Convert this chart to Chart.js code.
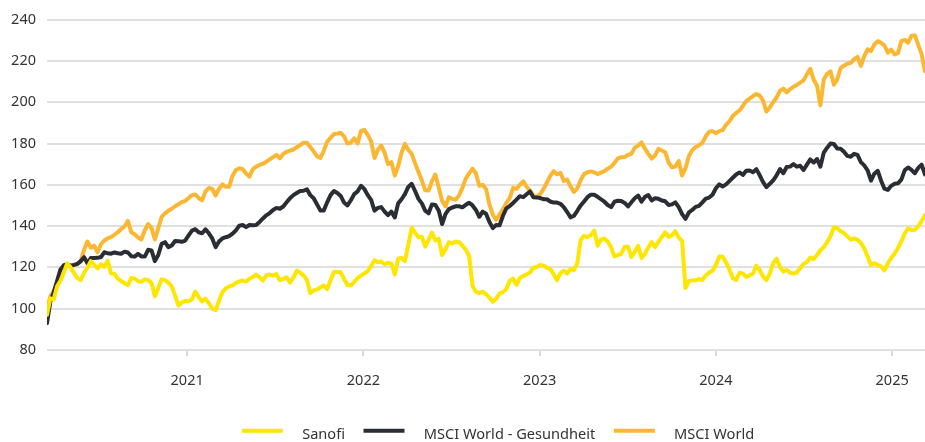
<!DOCTYPE html>
<html>
<head>
<meta charset="utf-8">
<script src="https://cdn.jsdelivr.net/npm/chart.js"></script>
<style>
  html, body { margin: 0; padding: 0; background: #fff; }
</style>
</head>
<body>
<canvas id="myChart" width="925" height="442"></canvas>

<script>
// weekly closes, indexed, first week = 2020-03-16
const firstWeek = '2020-03-16';

const sanofi = [
  97, 105, 104.5, 110.8, 113.5, 117.5, 122, 120, 117.3, 114.8, 113.8, 117.3, 119.8, 123, 121.2, 119.5, 121.5, 120.2, 123.2, 117,
  116.9, 114.5, 113.4, 112.3, 111.4, 114.8, 114.6, 113.3, 113, 114.2, 113.8, 112.5, 106, 110, 114.2, 113.8, 112.6, 110.8, 106.3, 101.5,
  103, 103.8, 103.6, 104.5, 108.3, 105.5, 103.5, 104.8, 102.6, 100.1, 99.2, 103.8, 108, 109.8, 110.8, 111.3, 112.4, 113.2, 113.6, 113.1,
  114.4, 115.4, 116.5, 115.2, 113.6, 116.2, 116.5, 116, 116.7, 113.8, 114.4, 115.2, 112.6, 115, 118.4, 117.5, 116.1, 114, 107.6, 108.7,
  109.3, 110.2, 111.2, 109.5, 113.7, 117.8, 117.7, 117.6, 114.4, 111.5, 111.2, 113, 114.8, 116, 117, 118.2, 120.6, 123.5, 122.5, 122.8,
  121.5, 122.2, 121.8, 116.5, 124.3, 124.5, 123, 131, 139.2, 136.8, 134.6, 134.8, 130, 133.3, 136.9, 133, 133.8, 126, 128.8, 132.2,
  131.6, 132.5, 132.2, 130.5, 128.6, 125.5, 111, 108.2, 107.5, 108.2, 107, 105.3, 103.3, 104.8, 107.3, 108, 109.5, 113.5, 114.5, 111.5,
  114.8, 115.8, 116.6, 117.5, 119.8, 120.2, 121.2, 120.8, 119.8, 119.3, 116.7, 113.8, 117.2, 118.4, 117, 119.2, 118.6, 122, 133.3, 135.3,
  134.7, 135.6, 137.8, 130.5, 133.5, 134, 132.5, 129.6, 125.3, 126, 126.5, 130, 130, 125, 127.5, 130.4, 124.5, 126.5, 129.6, 132.2,
  129.8, 132.3, 134.7, 137, 134.8, 135.5, 137.5, 134.5, 132.8, 110, 113.4, 113.7, 113.7, 114.3, 113.9, 116, 117.5, 118.4, 121.2, 125.2,
  125.1, 122.4, 119, 114.8, 113.8, 117.4, 117, 115.4, 116.1, 116.9, 120.8, 118.6, 115.5, 113.8, 117, 122, 124.2, 120.2, 118, 118.8,
  117.4, 117, 117.5, 119.6, 121.6, 122.6, 124.8, 124, 126, 128.3, 129.8, 132.2, 135.2, 139.4, 139, 137.5, 136.6, 135, 133.4, 134,
  133.4, 131.8, 129.2, 125.2, 121.2, 122, 121.2, 120.4, 118.5, 122, 124.5, 126.6, 129.4, 132.6, 136.4, 138.9, 138.1, 138.2, 139.8, 142.4,
  145.3
];

const msciHealth = [
  93, 103.5, 108, 113.5, 119, 121, 121.5, 120.8, 121.2, 121.7, 123, 124.9, 122, 124.5, 124.5, 124.6, 125, 127.3, 126.8, 126.6,
  127.2, 126.8, 126.6, 127.6, 127.2, 125.4, 125.2, 126.5, 125.3, 125.2, 128.5, 128.2, 123, 126, 131.4, 132.2, 129.8, 130.6, 132.8, 132.6,
  132.4, 133, 135.5, 137.8, 138.5, 137, 136.5, 138.4, 136.5, 134, 129.8, 132.5, 134, 134.6, 135.1, 136.3, 137.9, 140.2, 140.5, 139.5,
  140.5, 140.4, 140.5, 142, 143.7, 145.2, 146.3, 147.8, 148.8, 148.4, 149.5, 151.5, 153.5, 155, 156, 157, 157.1, 157.8, 155, 153.5,
  150.5, 147.5, 147.6, 151.5, 155, 157, 156, 154.6, 151.4, 150, 152.5, 155.5, 156.8, 159.5, 158, 155, 152.7, 147.5, 148.8, 149.2,
  147, 145.3, 147, 144.2, 151, 153, 155.5, 159, 160.5, 157, 153.2, 151, 147.5, 146.2, 150.5, 150.2, 147.5, 141, 145.8, 148.2,
  149, 149.6, 149.6, 149.1, 150.3, 151.3, 150, 147.8, 144.5, 147, 146, 142, 139, 140.5, 140.4, 145, 148.6, 149.7, 151.2, 152.8,
  154.5, 154, 155.4, 156.8, 154, 153.9, 153.6, 153, 153, 151.9, 151.4, 151.4, 150.8, 149.2, 146.8, 144.2, 145, 147.4, 150, 151.9,
  154, 155.2, 155.2, 154.2, 153, 151.8, 150.2, 149.2, 151.8, 152.3, 152.1, 151.2, 149.5, 151.5, 153.5, 154.8, 151.8, 154.2, 155, 152.4,
  153.5, 153.2, 152.4, 152, 150.2, 150.5, 151.5, 149.2, 145.8, 143.5, 146.6, 147.8, 149.3, 149.8, 151.5, 153.3, 153.8, 155.2, 158.3, 160.2,
  159.2, 160.2, 161.8, 163.4, 165, 166, 164.8, 166.8, 166.9, 166.1, 167.6, 164.6, 161.3, 158.9, 160.5, 162.2, 164.6, 167.6, 165.6, 168.6,
  168.8, 170, 168.8, 169.2, 167.2, 169.8, 172.3, 170.8, 172.5, 168.8, 175.6, 178, 180, 179.8, 177.6, 177.5, 176, 174, 173.6, 175,
  174.5, 171, 169.4, 167, 162, 165.4, 166.8, 162, 158.1, 157.5, 159.5, 160.5, 160.7, 162.5, 167, 168.4, 167.2, 165.6, 168.2, 169.8,
  165
];

const msciWorld = [
  100, 106, 108.5, 112, 117, 120.5, 121.5, 120.5, 121, 121.5, 123, 128.5, 132.5, 129.5, 130.5, 127.3, 131.2, 133, 134, 134.6,
  135.8, 137, 138.6, 139.8, 142.5, 137, 136, 134.5, 133.5, 138, 141, 139, 133.5, 139, 144.4, 146.2, 147.4, 148.4, 149.6, 150.6,
  151.6, 152.2, 153.6, 155, 155.3, 153.5, 152.5, 156.8, 158.5, 158, 154.8, 158, 160.2, 159, 159, 164.3, 167.2, 168, 167.6, 165.5,
  164, 167.5, 168.8, 169.6, 170.2, 171.2, 172.3, 173.4, 174.5, 172.8, 175, 176, 176.6, 177.1, 178.2, 179.2, 180.4, 180.4, 178.3, 176.2,
  173.8, 173, 176.5, 180.8, 182.8, 184.6, 184.8, 185.2, 183.5, 180, 180.5, 182.5, 180, 186, 186.6, 184.2, 181, 173, 177, 179,
  175.5, 170, 171, 164.5, 169, 175.5, 179.8, 177, 175, 170.5, 166.2, 162.2, 157.3, 157.2, 161.8, 165, 158.7, 152.3, 149.5, 154,
  153.2, 152.8, 154.8, 158.5, 163, 165.5, 167.8, 165.5, 159.5, 160, 158, 150.5, 145.5, 143, 145.7, 148.2, 151.2, 153.5, 158.5, 158,
  160, 161.7, 159, 157.1, 154.8, 154, 155.5, 157.9, 161.1, 164.3, 166.6, 165.1, 165.8, 161.9, 162.5, 159.2, 156.5, 158.3, 162.3, 165.2,
  166, 166.5, 166, 165.2, 165.9, 166.6, 167.8, 168.8, 170.6, 172.8, 173.4, 173.5, 174.5, 175, 178, 179, 180.5, 177.5, 175, 172.7,
  174.2, 177.4, 176.6, 175.8, 170.8, 168.5, 168.8, 171.5, 164.5, 168, 173.8, 176.8, 178.3, 179.2, 180.3, 183.5, 185.7, 186, 185, 186,
  186.5, 189, 190.8, 193.3, 194.8, 196, 198.2, 200.6, 201.8, 203, 204, 203.2, 200.8, 195.5, 197.5, 200, 202.3, 205.5, 206.6, 204.8,
  206.3, 207.5, 208.4, 209.5, 210.6, 213.5, 216.2, 211, 208, 198.5, 211, 213.8, 215, 208.5, 211.2, 216.5, 217.7, 218.6, 219.1, 220.9,
  222, 217.6, 222.3, 225.6, 224.8, 228, 229.6, 228.8, 227.5, 224, 225.5, 223.2, 223.8, 229.6, 230.2, 228.9, 232.2, 232.4, 227.8, 223.3,
  215
];

const yearTicks = [2021, 2022, 2023, 2024, 2025];
const seriesNames = ['Sanofi', 'MSCI World - Gesundheit', 'MSCI World'];
const seriesColors = ['#ffe600', '#2b2d35', '#fbb731'];

const fontFamily = '"Noto Sans", sans-serif';

// date -> decimal year so the linear axis can put ticks on 1 January
function toYear(ms) {
  const d = new Date(ms);
  const y = d.getUTCFullYear();
  const a = Date.UTC(y, 0, 1);
  const b = Date.UTC(y + 1, 0, 1);
  return y + (ms - a) / (b - a);
}
const t0 = Date.parse(firstWeek);
const weeks = sanofi.map((_, i) => toYear(t0 + i * 7 * 86400000));

// legend marker: short thick line, a bit above the text middle
function legendLine(color) {
  const c = document.createElement('canvas');
  c.width = 67;
  c.height = 24;
  const g = c.getContext('2d');
  g.fillStyle = color;
  g.fillRect(14, 6, 41, 4);
  return c;
}

function makeDataset(values, idx) {
  return {
    label: seriesNames[idx],
    data: values.map((v, i) => ({ x: weeks[i], y: v })),
    borderColor: seriesColors[idx],
    backgroundColor: seriesColors[idx],
    borderWidth: 4,
    borderJoinStyle: 'round',
    borderCapStyle: 'round',
    pointRadius: 0,
    pointHoverRadius: 0,
    pointStyle: legendLine(seriesColors[idx]),
    tension: 0,
    fill: false
  };
}

// nudge the legend a little right and down
const legendShift = {
  id: 'legendShift',
  afterLayout(chart) {
    const l = chart.legend;
    l.left += 5;
    l.right += 5;
    l.top += 10;
    l.bottom += 10;
  }
};

const configChart = {
  type: 'line',
  data: {
    datasets: [
      makeDataset(sanofi, 0),
      makeDataset(msciHealth, 1),
      makeDataset(msciWorld, 2)
    ]
  },
  options: {
    responsive: false,
    animation: false,
    layout: { padding: { top: 19, right: 0, bottom: 0, left: 0 } },
    plugins: {
      tooltip: { enabled: false },
      legend: {
        position: 'bottom',
        fullSize: false,
        labels: {
          usePointStyle: true,
          pointStyleWidth: 67,
          padding: 4.5,
          color: '#333',
          font: { family: fontFamily, size: 14.6 }
        }
      }
    },
    scales: {
      x: {
        type: 'linear',
        min: weeks[0],
        max: weeks[weeks.length - 1],
        afterBuildTicks: (s) => { s.ticks = yearTicks.map(v => ({ value: v })); },
        afterFit: (s) => { s.height = 63; },
        grid: { drawOnChartArea: false, drawTicks: true, tickLength: 6, color: '#d9d9d9', lineWidth: 2 },
        border: { display: false },
        ticks: {
          padding: 16,
          maxRotation: 0,
          color: '#333',
          font: { family: fontFamily, size: 14.5 },
          callback: (v) => String(v)
        }
      },
      y: {
        min: 80,
        max: 240,
        afterFit: (s) => { s.width = 47; },
        grid: { color: '#e0e0e0', lineWidth: 2, drawTicks: false },
        border: { display: false },
        ticks: {
          stepSize: 20,
          padding: 11,
          color: '#333',
          font: { family: fontFamily, size: 14.5 }
        }
      }
    }
  },
  plugins: [legendShift]
};

const myChart = new Chart(document.getElementById('myChart'), configChart);
</script>
</body>
</html>
